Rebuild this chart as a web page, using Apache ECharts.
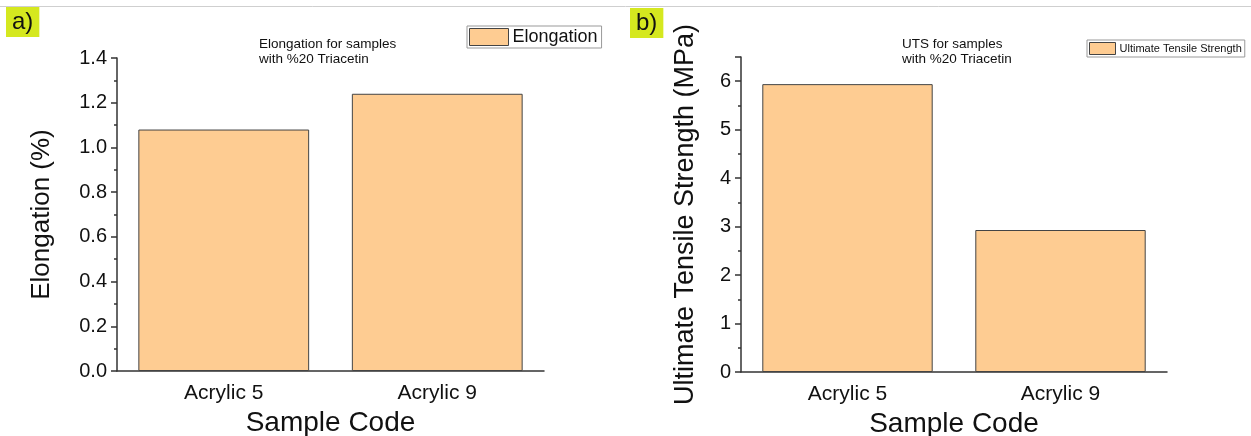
<!DOCTYPE html>
<html>
<head>
<meta charset="utf-8">
<script src="https://cdn.jsdelivr.net/npm/echarts@6/dist/echarts.min.js"></script>
<style>
html,body{margin:0;padding:0;background:#fff;}
#chart{width:1251px;height:436px;}
</style>
</head>
<body>
<div id="chart"></div>
<script>
const categories = ['Acrylic 5', 'Acrylic 9'];
const elongation = [1.08, 1.24];
const uts = [5.94, 2.93];
const elongationTicks = { min: 0, max: 1.4, interval: 0.2 };
const utsTicks = { min: 0, max: 6.5, interval: 1 };

const FONT = '"Liberation Sans", Arial, sans-serif';
const AX = '#333';
const BAR = '#FECC92';

const chart = echarts.init(document.getElementById('chart'), null, { renderer: 'canvas' });

function mainX(grid) {
  return {
    type: 'category', gridIndex: grid, data: categories, boundaryGap: true,
    axisLine: { lineStyle: { color: AX, width: 1.5 } },
    axisTick: { alignWithLabel: true, length: 6, lineStyle: { color: AX, width: 1.5 } },
    axisLabel: { color: '#111', fontSize: 21, fontFamily: FONT, margin: 12 },
    name: 'Sample Code', nameLocation: 'middle', nameGap: 35,
    nameTextStyle: { color: '#111', fontSize: 28, fontFamily: FONT }
  };
}
function minorX(grid) {
  return {
    type: 'category', gridIndex: grid, data: categories, boundaryGap: true,
    axisLine: { show: false },
    axisTick: { length: 3, lineStyle: { color: AX, width: 1.5 } },
    axisLabel: { show: false }
  };
}

chart.setOption({
  animation: false,
  backgroundColor: '#fff',
  graphic: [
    { type: 'line', shape: { x1: 0, y1: 6.5, x2: 1251, y2: 6.5 }, style: { stroke: '#cfcfcf', lineWidth: 1 } }
  ],
  title: [
    { text: 'a)', left: 6, top: 7, backgroundColor: '#d5e81f', padding: [3, 6, 3, 6],
      textStyle: { fontSize: 24, fontWeight: 'normal', color: '#111', fontFamily: FONT, lineHeight: 24 } },
    { text: 'b)', left: 630, top: 8, backgroundColor: '#d5e81f', padding: [3, 6, 3, 6],
      textStyle: { fontSize: 24, fontWeight: 'normal', color: '#111', fontFamily: FONT, lineHeight: 24 } },
    { text: 'Elongation for samples\nwith %20 Triacetin', left: 254, top: 32,
      textStyle: { fontSize: 13.5, fontWeight: 'normal', color: '#111', fontFamily: FONT, lineHeight: 15 } },
    { text: 'UTS for samples\nwith %20 Triacetin', left: 897, top: 32,
      textStyle: { fontSize: 13.5, fontWeight: 'normal', color: '#111', fontFamily: FONT, lineHeight: 15 } }
  ],
  legend: [
    { data: ['Elongation'], left: 467, top: 26, orient: 'horizontal',
      borderColor: '#999', borderWidth: 1, padding: [2, 4, 2, 2],
      itemWidth: 39, itemHeight: 17, itemGap: 5, icon: 'rect',
      itemStyle: { color: BAR, borderColor: '#444', borderWidth: 1 },
      textStyle: { fontSize: 18, color: '#111', fontFamily: FONT, padding: [0, 0, 0, -1] } },
    { data: ['Ultimate Tensile Strength'], left: 1087, top: 40, orient: 'horizontal',
      borderColor: '#999', borderWidth: 1, padding: [2, 3, 2, 2],
      itemWidth: 26, itemHeight: 12, itemGap: 4, icon: 'rect',
      itemStyle: { color: BAR, borderColor: '#444', borderWidth: 1 },
      textStyle: { fontSize: 11, color: '#111', fontFamily: FONT, padding: [0, 0, 0, -1] } }
  ],
  grid: [
    { left: 117, top: 58, width: 427, height: 313, outerBoundsMode: 'none', containLabel: false },
    { left: 741, top: 57, width: 426, height: 315, outerBoundsMode: 'none', containLabel: false }
  ],
  xAxis: [mainX(0), minorX(0), mainX(1), minorX(1)],
  yAxis: [
    { type: 'value', gridIndex: 0, position: 'left', min: elongationTicks.min, max: elongationTicks.max, interval: elongationTicks.interval,
      axisLine: { show: true, lineStyle: { color: AX, width: 1.5 } },
      axisTick: { show: true, length: 6, lineStyle: { color: AX, width: 1.5 } },
      minorTick: { show: true, splitNumber: 2, length: 3, lineStyle: { color: AX, width: 1.5 } },
      splitLine: { show: false },
      axisLabel: { color: '#111', fontSize: 20, fontFamily: FONT, margin: 10, formatter: v => v.toFixed(1) },
      name: 'Elongation (%)', nameLocation: 'middle', nameGap: 62,
      nameTextStyle: { color: '#111', fontSize: 26, fontFamily: FONT } },
    { type: 'value', gridIndex: 1, position: 'left', min: utsTicks.min, max: utsTicks.max, interval: utsTicks.interval,
      axisLine: { show: true, lineStyle: { color: AX, width: 1.5 } },
      axisTick: { show: true, length: 6, lineStyle: { color: AX, width: 1.5 } },
      splitLine: { show: false },
      axisLabel: { color: '#111', fontSize: 20, fontFamily: FONT, margin: 10,
        formatter: v => (Math.abs(v - Math.round(v)) < 1e-6 ? String(Math.round(v)) : '') },
      name: 'Ultimate Tensile Strength (MPa)', nameLocation: 'middle', nameGap: 42,
      nameTextStyle: { color: '#111', fontSize: 27, fontFamily: FONT } },
    { type: 'value', gridIndex: 1, position: 'left', offset: 0, min: utsTicks.min, max: utsTicks.max, interval: utsTicks.interval / 2,
      axisLine: { show: false },
      axisTick: { show: true, length: 3, lineStyle: { color: AX, width: 1.5 } },
      splitLine: { show: false },
      axisLabel: { show: false } }
  ],
  series: [
    { name: 'Elongation', type: 'bar', xAxisIndex: 0, yAxisIndex: 0, data: elongation, barWidth: '80%',
      itemStyle: { color: BAR, borderColor: '#444', borderWidth: 1 } },
    { name: 'Ultimate Tensile Strength', type: 'bar', xAxisIndex: 2, yAxisIndex: 1, data: uts, barWidth: '80%',
      itemStyle: { color: BAR, borderColor: '#444', borderWidth: 1 } }
  ]
});
</script>
</body>
</html>
